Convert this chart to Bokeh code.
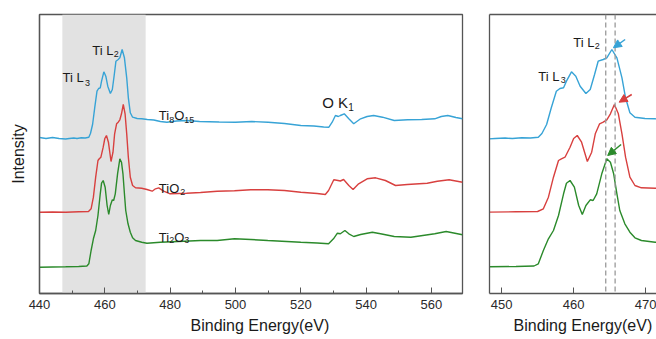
from bokeh.plotting import figure
from bokeh.layouts import row
from bokeh.models import (ColumnDataSource, FixedTicker, LinearAxis, Range1d,
                          BoxAnnotation, Span, Arrow, NormalHead, Title)
from bokeh.core.properties import value, field
from bokeh.embed import file_html
from bokeh.resources import INLINE

# ---------------- data (binding energy in eV, intensity in arbitrary units, offset per spectrum)
energy_blue = [440, 442, 444, 446, 448, 449.1, 450.5, 451.5, 452.8, 454, 455.1, 455.6, 456.25,
               456.9, 457.6, 458.1, 458.6, 459.0, 459.7, 460.3, 460.9, 461.7, 462.3, 462.9,
               463.4, 464.1, 464.6, 465.3, 466.0, 466.7, 467.2, 467.8, 468.5, 469.9, 471.3,
               473, 475, 477, 479, 482, 485, 489, 495, 500, 505, 510, 515, 520, 524, 527,
               528.6, 529.6, 530.6, 531.5, 532.1, 533.3, 534.7, 536.2, 538.3, 540.3, 542.3,
               545, 548.6, 552.7, 557, 561, 563, 565, 567.5, 569.5]
intensity_blue = [156, 155, 156, 155, 154.5, 155, 155.5, 155, 155.7, 155.5, 156.3, 160, 169,
                  185.7, 202.3, 205, 205.7, 212.3, 221.7, 217.3, 207.3, 200, 204, 219,
                  232.3, 234, 235.7, 244, 235.7, 215.7, 195.7, 180.7, 176.3, 175, 174.7,
                  174, 173.5, 172, 171.3, 172.5, 173, 172, 171.5, 171.3, 172, 171.3, 170, 168, 167.5, 166.5,
                  166.3, 171.3, 178, 177, 178, 179.7, 174.7, 169.7, 174.7, 177, 178,
                  176.3, 173, 173.7, 174, 174.7, 177, 178, 176, 174.7]

energy_red = [440, 444, 448, 452, 455.0, 455.8, 456.5, 457.2, 457.9, 458.3, 458.8, 459.5,
              460.0, 460.5, 461.1, 461.9, 462.5, 463.0, 463.6, 464.1, 464.6, 465.1, 465.65,
              466.2, 466.7, 467.2, 467.8, 468.5, 469.4, 471.3, 472.9, 474.5, 475.5, 476.5,
              478, 480, 485, 489.3, 494.4, 499.7, 504.7, 509.9, 515, 520, 525, 527.5, 528.5,
              530.1, 531.4, 532.1, 533.1, 534.7, 536, 537.7, 540.3, 542.9, 545.9, 549, 552.6,
              558.7, 561.8, 565.4, 569.5]
intensity_red = [81.3, 81.5, 81.3, 81.7, 82, 84.7, 96.3, 116.3, 133, 134.7, 136.3, 146.3,
                 155, 158, 151.3, 132, 141.3, 159.7, 169.7, 171.3, 173.7, 179.7, 189,
                 179.7, 159.7, 136.3, 116.3, 108, 105.7, 105.3, 104, 102.3, 104.7, 105.7,
                 102.3, 99.7, 100.3, 101, 102.3, 102.7, 103.7, 103.7, 103, 101.3, 100, 99, 103,
                 113.7, 113, 112.5, 114, 108, 104, 109.7, 114.7, 115.7, 113, 108, 109,
                 110.3, 112.3, 113.7, 111.3]

energy_green = [440, 444, 448, 452, 454.5, 455.1, 455.8, 456.5, 457.2, 457.9, 458.6, 459.0,
                459.5, 460.1, 460.7, 461.2, 461.7, 462.3, 462.7, 463.2, 463.9, 464.6, 465.1,
                465.55, 466.0, 466.4, 467.1, 467.8, 468.5, 469.4, 471.3, 472.9, 477, 484.2,
                489.3, 494.4, 499.7, 504.7, 509.9, 520, 525, 528.5, 530, 531.2, 532.1, 533.5,
                534.7, 536.2, 538.3, 541.9, 544.4, 548.6, 553.7, 561, 564.5, 569.5]
intensity_green = [26.3, 26.5, 26.7, 27, 27.5, 29.7, 43, 54.7, 63, 78, 99.7, 110.3,
                   113, 106.3, 88, 79, 88, 93.7, 93, 99.7, 119.7, 134.7, 131.3,
                   119.7, 99.7, 83, 69.7, 61.3, 55.7, 53, 51.3, 50.3, 51.3, 52.3,
                   53, 53, 54.7, 54, 53, 51.3, 50.5, 49.7, 54.7, 60.3, 59.7, 63,
                   59.7, 57, 59, 61.3, 59.7, 57, 56.3, 59.7, 62, 58.7]

left_ticks = [440, 460, 480, 500, 520, 540, 560]
left_minor_ticks = [450, 470, 490, 510, 530, 550]
right_ticks = [450, 460, 470]
marker_energies = [464.45, 465.75]   # dashed reference lines
shade_range = [447.0, 472.5]          # grey highlighted window
x_label = "Binding Energy(eV)"
y_label = "Intensity"

BLUE = "#37a3d6"
RED = "#d8403f"
GREEN = "#2b8a2b"
AX = "#555555"
TXT = "#1a1a1a"
FONT = "Liberation Sans"


def make_fig(frame_w, xr, mbl, mbr):
    p = figure(frame_width=frame_w, frame_height=279, x_range=xr, y_range=Range1d(0, 279),
               output_backend="svg", toolbar_location=None,
               min_border_left=mbl, min_border_right=mbr,
               min_border_top=14, min_border_bottom=46)
    p.xgrid.visible = False
    p.ygrid.visible = False
    p.background_fill_color = "white"
    p.border_fill_color = "white"
    xa = p.xaxis[0]
    xa.axis_line_color = AX
    xa.axis_line_width = 1.3
    xa.major_tick_line_color = AX
    xa.minor_tick_line_color = AX
    xa.major_tick_in = 6
    xa.major_tick_out = 0
    xa.minor_tick_in = 3
    xa.minor_tick_out = 0
    xa.major_label_text_font = FONT
    xa.major_label_text_font_size = "13px"
    xa.major_label_text_color = "#2a2a2a"
    xa.major_label_standoff = 6
    ya = p.yaxis[0]
    ya.ticker = FixedTicker(ticks=[])
    ya.axis_line_color = AX
    ya.axis_line_width = 1.3
    ya.major_tick_line_color = None
    ya.minor_tick_line_color = None
    return p


def add_curves(p):
    for e, i, c in ((energy_blue, intensity_blue, BLUE),
                    (energy_red, intensity_red, RED),
                    (energy_green, intensity_green, GREEN)):
        p.line(e, i, line_color=c, line_width=1.4)


def add_texts(p, items):
    xs, ys, ts, ss, dxs, dys = [], [], [], [], [], []
    for (x, y, pieces) in items:
        for (t, s, dx, dy) in pieces:
            xs.append(x); ys.append(y); ts.append(t); ss.append(s); dxs.append(dx); dys.append(dy)
    src = ColumnDataSource(dict(x=xs, y=ys, text=ts, size=ss, dx=dxs, dy=dys))
    p.text(x="x", y="y", text="text", source=src, text_font=value(FONT),
           text_font_size=field("size"), x_offset="dx", y_offset="dy",
           text_color=TXT, text_baseline="alphabetic", text_align="left")


def add_xlabel(p, offset):
    p.add_layout(Title(text=x_label, align="left", offset=offset, standoff=7,
                       text_font=FONT, text_font_size="16px", text_font_style="normal",
                       text_color=TXT), "below")


# ---------------- left panel
p1 = make_fig(423, Range1d(440, 569.5), 39, 13)
p1.outline_line_color = AX
p1.outline_line_width = 1.3
p1.xaxis[0].ticker = FixedTicker(ticks=left_ticks, minor_ticks=left_minor_ticks)
p1.yaxis[0].axis_label = y_label
p1.yaxis[0].axis_label_text_font = FONT
p1.yaxis[0].axis_label_text_font_size = "16px"
p1.yaxis[0].axis_label_text_font_style = "normal"
p1.yaxis[0].axis_label_text_color = TXT
p1.yaxis[0].axis_label_standoff = 13

p1.add_layout(BoxAnnotation(left=shade_range[0], right=shade_range[1],
                            fill_color="#e2e2e2", fill_alpha=1.0, line_color=None,
                            level="underlay"))
add_curves(p1)
add_texts(p1, [
    (447.04, 216, [("Ti L", "13px", 0, 0), ("3", "9px", 22.5, 5)]),
    (456.13, 243.5, [("Ti L", "13px", 0, 0), ("2", "9px", 21.5, 4)]),
    (476.52, 178, [("Ti", "13px", 0, 0), ("8", "9px", 10.5, 4.5), ("O", "13px", 15.5, 0), ("15", "9px", 25.5, 4.5)]),
    (476.52, 105.5, [("TiO", "13px", 0, 0), ("2", "9px", 21.5, 3.5)]),
    (476.52, 56.5, [("Ti", "13px", 0, 0), ("2", "9px", 10.5, 3), ("O", "13px", 15.5, 0), ("3", "9px", 25.5, 3)]),
    (526.53, 191.5, [("O K", "15px", 0, 0), ("1", "10px", 26, 5)]),
])
add_xlabel(p1, 151)

# ---------------- right panel (zoom on Ti L edge)
p2 = make_fig(167, Range1d(448.33, 471.49), 14, 0)
p2.outline_line_color = None
p2.xaxis[0].ticker = FixedTicker(ticks=right_ticks)
p2.xaxis[0].minor_tick_line_color = None
p2.add_layout(LinearAxis(ticker=FixedTicker(ticks=[]), axis_line_color=AX, axis_line_width=1.3,
                         major_tick_line_color=None, minor_tick_line_color=None,
                         major_label_text_font_size="0px"), "above")
add_curves(p2)
for m in marker_energies:
    p2.add_layout(Span(location=m, dimension="height", line_color="#999999",
                       line_dash="5 3", line_width=1.3))
arrow_tail_x = [467.14, 468.06, 466.58]
arrow_tail_y = [254, 199, 149]
arrow_head_x = [465.51, 466.31, 464.72]
arrow_head_y = [245.7, 191.3, 138]
for tx, ty, hx, hy, c in zip(arrow_tail_x, arrow_tail_y, arrow_head_x, arrow_head_y, [BLUE, RED, GREEN]):
    p2.add_layout(Arrow(x_start=tx, y_start=ty, x_end=hx, y_end=hy, line_color=c, line_width=1.5,
                        end=NormalHead(size=8, fill_color=c, line_color=c)))
add_texts(p2, [
    (455.10, 217.3, [("Ti L", "13px", 0, 0), ("3", "9px", 22.5, 4)]),
    (459.96, 250.7, [("Ti L", "13px", 0, 0), ("2", "9px", 21.5, 3.5)]),
])
add_xlabel(p2, 24)

layout = row(p1, p2, spacing=0)
open("out.html", "w").write(file_html(layout, INLINE))
